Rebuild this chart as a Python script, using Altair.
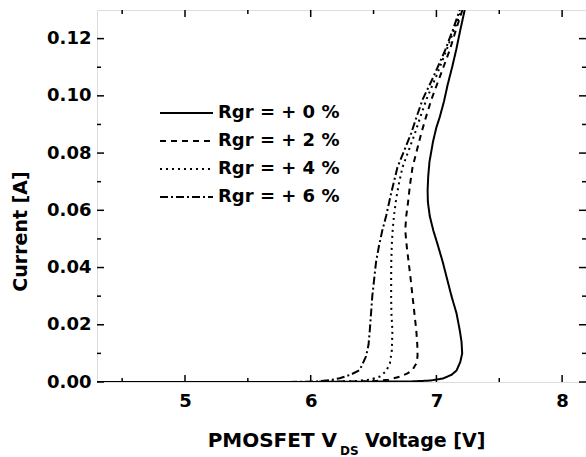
import altair as alt
import pandas as pd

# I-V sweep of the PMOSFET for four gate-resistor offsets
series_names = ["Rgr = + 0 %", "Rgr = + 2 %", "Rgr = + 4 %", "Rgr = + 6 %"]

v_0 = [4.30, 6.00, 6.80, 6.95, 7.05, 7.12, 7.16, 7.19, 7.205, 7.20, 7.186, 7.16, 7.12, 7.085, 7.05, 7.01,
       6.975, 6.947, 6.932, 6.93, 6.935, 6.945, 6.973, 7.00, 7.026, 7.06, 7.09, 7.125, 7.157, 7.19, 7.225]
i_0 = [0.0, 0.0, 0.0002, 0.0005, 0.0012, 0.0025, 0.004, 0.007, 0.010, 0.014, 0.018, 0.024, 0.030, 0.036, 0.042, 0.048,
       0.053, 0.058, 0.063, 0.067, 0.072, 0.077, 0.084, 0.089, 0.0925, 0.098, 0.104, 0.110, 0.116, 0.123, 0.130]

v_2 = [4.30, 6.00, 6.50, 6.62, 6.71, 6.77, 6.81, 6.84, 6.85, 6.848, 6.84, 6.825, 6.81, 6.795, 6.78, 6.765,
       6.752, 6.76, 6.775, 6.79, 6.81, 6.845, 6.88, 6.92, 6.96, 7.03, 7.106, 7.155, 7.207]
i_2 = [0.0, 0.0, 0.0003, 0.0008, 0.0019, 0.003, 0.0042, 0.0065, 0.009, 0.013, 0.018, 0.024, 0.030, 0.036, 0.0416, 0.047,
       0.053, 0.058, 0.063, 0.069, 0.075, 0.081, 0.087, 0.093, 0.0987, 0.107, 0.116, 0.123, 0.130]

v_4 = [4.30, 6.00, 6.35, 6.47, 6.55, 6.60, 6.63, 6.645, 6.65, 6.642, 6.64, 6.64, 6.641, 6.645, 6.652, 6.662,
       6.68, 6.70, 6.73, 6.78, 6.83, 6.875, 6.92, 7.00, 7.08, 7.14, 7.20]
i_4 = [0.0, 0.0, 0.0003, 0.0008, 0.0019, 0.0038, 0.0065, 0.011, 0.018, 0.024, 0.030, 0.036, 0.042, 0.048, 0.053, 0.058,
       0.064, 0.069, 0.075, 0.081, 0.087, 0.093, 0.0987, 0.107, 0.116, 0.123, 0.130]

v_6 = [4.30, 5.80, 6.05, 6.15, 6.23, 6.32, 6.39, 6.44, 6.46, 6.47, 6.48, 6.49, 6.505, 6.52, 6.545, 6.57,
       6.60, 6.64, 6.69, 6.745, 6.80, 6.845, 6.89, 6.98, 7.07, 7.13, 7.186]
i_6 = [0.0, 0.0, 0.0002, 0.0006, 0.0013, 0.0026, 0.0042, 0.0089, 0.013, 0.018, 0.024, 0.030, 0.036, 0.042, 0.048, 0.053,
       0.058, 0.066, 0.075, 0.081, 0.087, 0.093, 0.0987, 0.107, 0.116, 0.123, 0.130]

x_major = [5, 6, 7, 8]
x_minor = [4.5, 5.5, 6.5, 7.5]
y_major = [0.00, 0.02, 0.04, 0.06, 0.08, 0.10, 0.12]
y_minor = [0.01, 0.03, 0.05, 0.07, 0.09, 0.11]

W, H = 489, 372
FONT = "DejaVu Sans"
X_DOM = [4.3, 8.19]
Y_DOM = [0.0, 0.13]
DASHES = [[1, 0], [6, 5], [2, 4], [8, 3, 2, 3]]

rows = []
for name, vs, cs in zip(series_names, [v_0, v_2, v_4, v_6], [i_0, i_2, i_4, i_6]):
    for k, (v, c) in enumerate(zip(vs, cs)):
        rows.append({"series": name, "V": v, "I": c, "k": k})
curves = pd.DataFrame(rows)

xs = alt.Scale(domain=X_DOM, nice=False, zero=False)
ys = alt.Scale(domain=Y_DOM, nice=False, zero=False)
dash_scale = alt.Scale(domain=series_names, range=DASHES)

lines = alt.Chart(curves).mark_line(strokeWidth=2, color="black", clip=True).encode(
    x=alt.X("V:Q", scale=xs, axis=alt.Axis(values=x_major, format="d", ticks=False, domain=False, grid=False,
                                           labelFont=FONT, labelFontSize=18, labelFontWeight="bold",
                                           labelColor="black", labelPadding=10, title=None)),
    y=alt.Y("I:Q", scale=ys, axis=alt.Axis(values=y_major, format=".2f", ticks=False, domain=False, grid=False,
                                           labelFont=FONT, labelFontSize=18, labelFontWeight="bold",
                                           labelColor="black", labelPadding=6,
                                           title="Current [A]", titleFont=FONT, titleFontSize=19,
                                           titleFontWeight="bold", titleColor="black",
                                           titleX=-71, titleY=221, titleAlign="center",
                                           titleBaseline="alphabetic")),
    strokeDash=alt.StrokeDash("series:N", sort=series_names, scale=dash_scale, legend=None),
    order="k:Q",
)

# in-plot key: one line sample and one label per series, 28 px apart
key_df = pd.DataFrame({"series": series_names, "row": list(range(len(series_names)))})
key_base = alt.Chart(key_df).transform_calculate(ypx="103 + 28 * datum.row")
key_lines = key_base.mark_rule(strokeWidth=2, color="black").encode(
    x=alt.value(63), x2=alt.value(116),
    y=alt.Y("ypx:Q", scale=None, axis=None),
    strokeDash=alt.StrokeDash("series:N", sort=series_names, scale=dash_scale, legend=None),
)
key_text = key_base.mark_text(align="left", baseline="middle", font=FONT, fontSize=18, fontWeight="bold",
                              color="black").encode(
    x=alt.value(121),
    y=alt.Y("ypx:Q", scale=None, axis=None),
    text="series:N",
)


def tick_layer(vals, field, length, side):
    df = pd.DataFrame({field: vals})
    base = alt.Chart(df).mark_rule(color="black", strokeWidth=1.5)
    if field == "V":
        if side == "bottom":
            return base.encode(x=alt.X("V:Q", scale=xs), y=alt.value(H), y2=alt.value(H - length))
        return base.encode(x=alt.X("V:Q", scale=xs), y=alt.value(0), y2=alt.value(length))
    if side == "left":
        return base.encode(y=alt.Y("I:Q", scale=ys), x=alt.value(0), x2=alt.value(length))
    return base.encode(y=alt.Y("I:Q", scale=ys), x=alt.value(W), x2=alt.value(W - length))


ticks = [
    tick_layer(x_major, "V", 7, "bottom"), tick_layer(x_minor, "V", 4, "bottom"),
    tick_layer(x_major, "V", 7, "top"), tick_layer(x_minor, "V", 4, "top"),
    tick_layer(y_major, "I", 7, "left"), tick_layer(y_minor, "I", 4, "left"),
    tick_layer(y_major, "I", 7, "right"), tick_layer(y_minor, "I", 4, "right"),
]

# x-axis title with subscript "DS"
title_df = pd.DataFrame({"t": [0]})
t_main = alt.Chart(title_df).mark_text(text="PMOSFET V", align="right", baseline="alphabetic",
                                        font=FONT, fontSize=20, fontWeight="bold", color="black").encode(
    x=alt.value(240), y=alt.value(H + 65))
t_sub = alt.Chart(title_df).mark_text(text="DS", align="left", baseline="alphabetic",
                                       font=FONT, fontSize=12, fontWeight="bold", color="black").encode(
    x=alt.value(243), y=alt.value(H + 73))
t_rest = alt.Chart(title_df).mark_text(text="Voltage [V]", align="left", baseline="alphabetic",
                                        font=FONT, fontSize=19, fontWeight="bold", color="black").encode(
    x=alt.value(268), y=alt.value(H + 65))

chart = alt.layer(lines, *ticks, key_lines, key_text, t_main, t_sub, t_rest).properties(
    width=W, height=H,
    autosize=alt.AutoSizeParams(type="none"),
    padding={"left": 97, "top": 10, "right": 0, "bottom": 75},
).configure_view(stroke="black", strokeWidth=2).configure(background="white")

chart.save("out.html", embed_options={"renderer": "svg", "actions": False})
